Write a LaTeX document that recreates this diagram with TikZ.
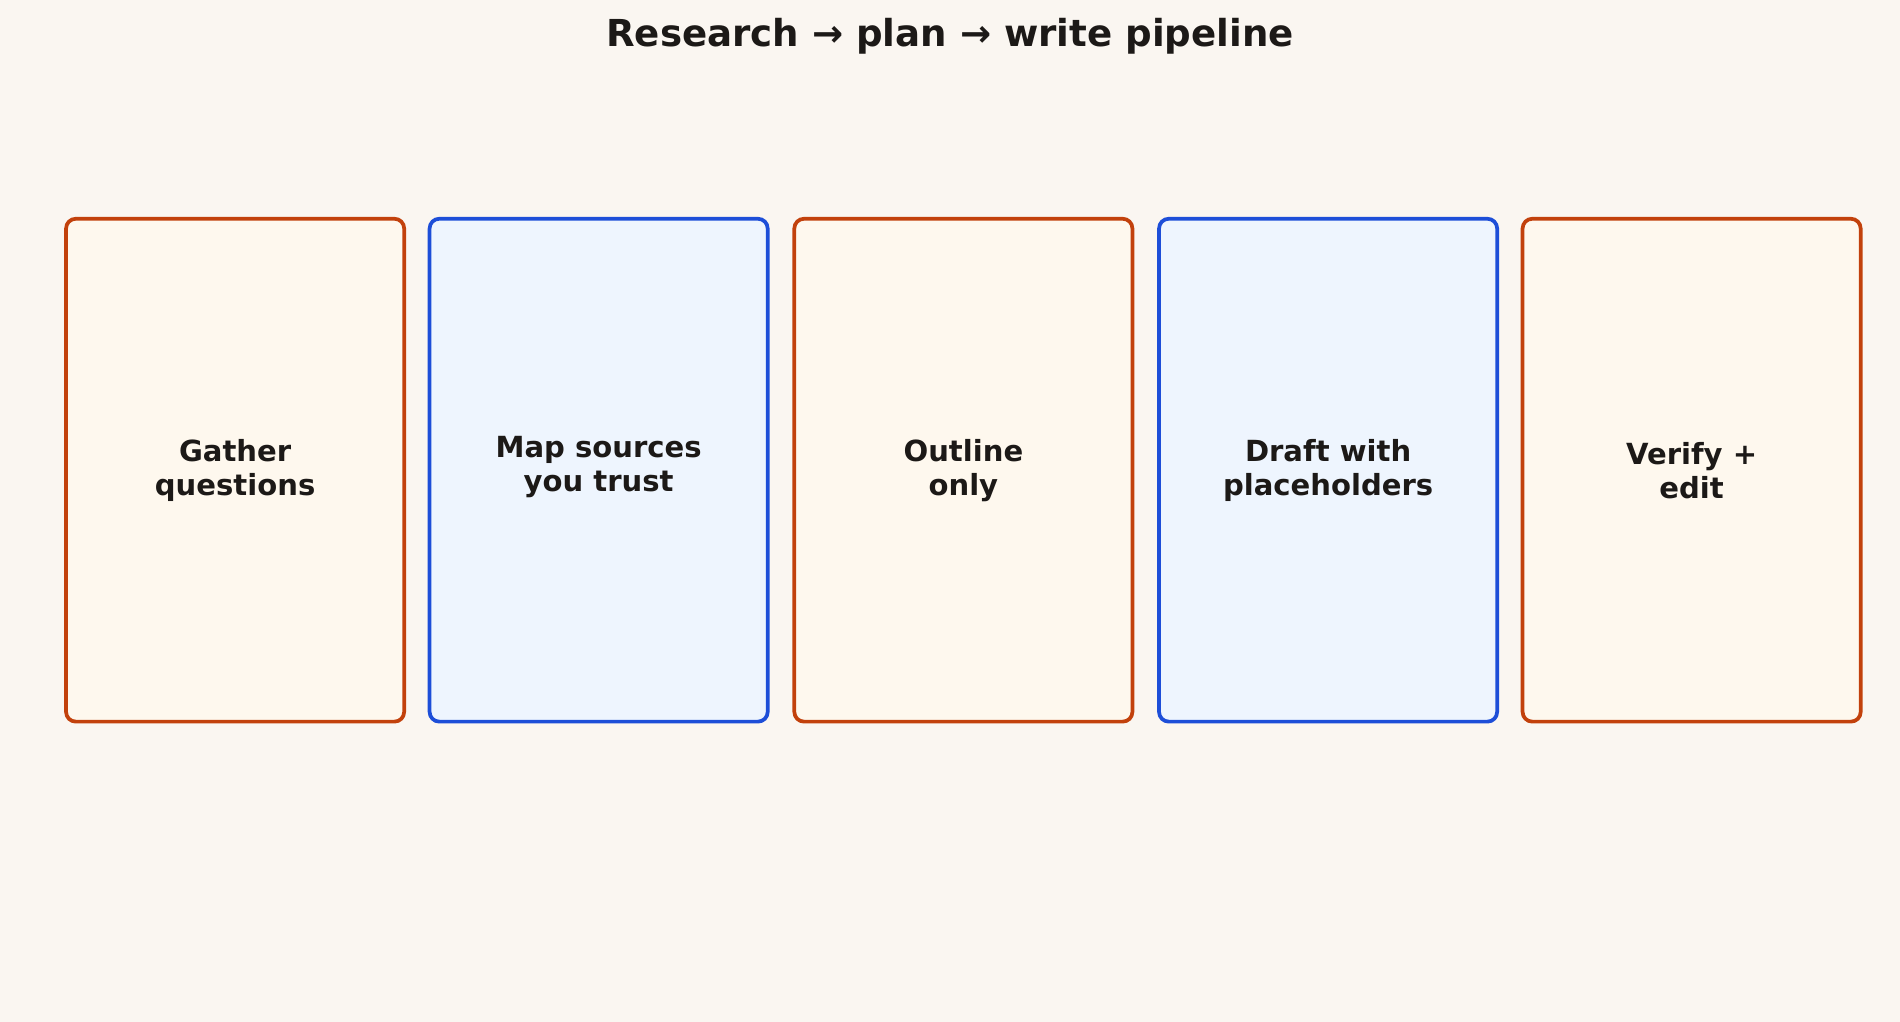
\documentclass[tikz,border=0pt]{standalone}
\usepackage{fontspec}
\setmainfont{DejaVu Sans}
\definecolor{bg}{HTML}{FAF6F1}
\definecolor{ora}{HTML}{C2410C}
\definecolor{blu}{HTML}{1D4ED8}
\definecolor{ofill}{HTML}{FEF8EE}
\definecolor{bfill}{HTML}{EEF5FE}
\definecolor{ink}{HTML}{1C1917}
\begin{document}
\begin{tikzpicture}[x=0.75pt,y=-0.75pt,
  box/.style={draw, line width=2.3pt, rounded corners=6pt, minimum width=279*0.75pt, minimum height=415*0.75pt, anchor=north west, inner sep=0pt},
  obox/.style={box, draw=ora, fill=ofill},
  bbox/.style={box, draw=blu, fill=bfill},
  lbl/.style={text=ink, font=\bfseries\fontsize{18}{21}\selectfont, align=center}]
\fill[bg] (0,0) rectangle (1568,843);
\useasboundingbox (0,0) rectangle (1568,843);
\node[text=ink, font=\bfseries\fontsize{23}{27}\selectfont] (title) at (784,30) {Research → plan → write pipeline};
\node[obox] (b1) at (53,179) {};
\node[bbox] (b2) at (353,179) {};
\node[obox] (b3) at (654,179) {};
\node[bbox] (b4) at (955,179) {};
\node[obox] (b5) at (1255,179) {};
\node[lbl] (t1) at (b1.center) {Gather\\questions};
\node[lbl] (t2) at ([yshift=2pt]b2.center) {Map sources\\you trust};
\node[lbl] (t3) at (b3.center) {Outline\\only};
\node[lbl] (t4) at (b4.center) {Draft with\\placeholders};
\node[lbl] (t5) at (b5.center) {Verify +\\edit};
\end{tikzpicture}
\end{document}
